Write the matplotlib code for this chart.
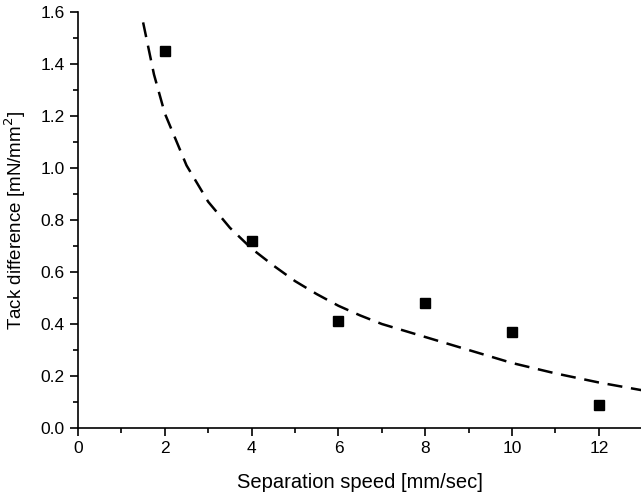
import matplotlib
matplotlib.use("Agg")
import matplotlib.pyplot as plt
from matplotlib.ticker import MultipleLocator

plt.rcParams['font.family'] = ['Liberation Sans', 'DejaVu Sans']

speed = [2, 4, 6, 8, 10, 12]
tack = [1.45, 0.72, 0.41, 0.48, 0.37, 0.09]

fit_x = [1.5, 1.75, 2.0, 2.5, 3.0, 3.5, 4.0, 4.5, 5.0, 5.5, 6.0, 6.5, 7.0, 8.0, 9.0, 10.0, 11.0, 12.0, 13.0]
fit_y = [1.56, 1.36, 1.21, 1.01, 0.87, 0.77, 0.69, 0.625, 0.565, 0.515, 0.47, 0.433, 0.40, 0.35, 0.30, 0.25, 0.21, 0.175, 0.145]

fig = plt.figure(figsize=(6.41, 4.98), dpi=100)
ax = fig.add_axes([78/641, 1-428/498, 1-78/641, (428-12)/498])

ax.plot(fit_x, fit_y, color='black', lw=1.8, linestyle=(0, (6, 3.5)))
ax.plot(speed, tack, linestyle='none', marker='s', color='black', markersize=7)

ax.set_xlim(0, 12.97)
ax.set_ylim(0, 1.6)
ax.xaxis.set_major_locator(MultipleLocator(2))
ax.xaxis.set_minor_locator(MultipleLocator(1))
ax.yaxis.set_major_locator(MultipleLocator(0.2))
ax.yaxis.set_minor_locator(MultipleLocator(0.1))
ax.yaxis.set_major_formatter(plt.FuncFormatter(lambda v, p: f"{v:.1f}"))
ax.spines['top'].set_visible(False)
ax.spines['right'].set_visible(False)
for s in ['left', 'bottom']:
    ax.spines[s].set_linewidth(1.2)
ax.tick_params(which='major', direction='out', length=6, width=1.2, labelsize=12.5)
ax.tick_params(which='minor', direction='out', length=3.5, width=1.2)

ax.set_xlabel('Separation speed [mm/sec]', fontsize=14.5, labelpad=12)
ax.set_ylabel('Tack difference [mN/mm$^2$]', fontsize=13.5, labelpad=9)

fig.savefig('out.png', dpi=100)
